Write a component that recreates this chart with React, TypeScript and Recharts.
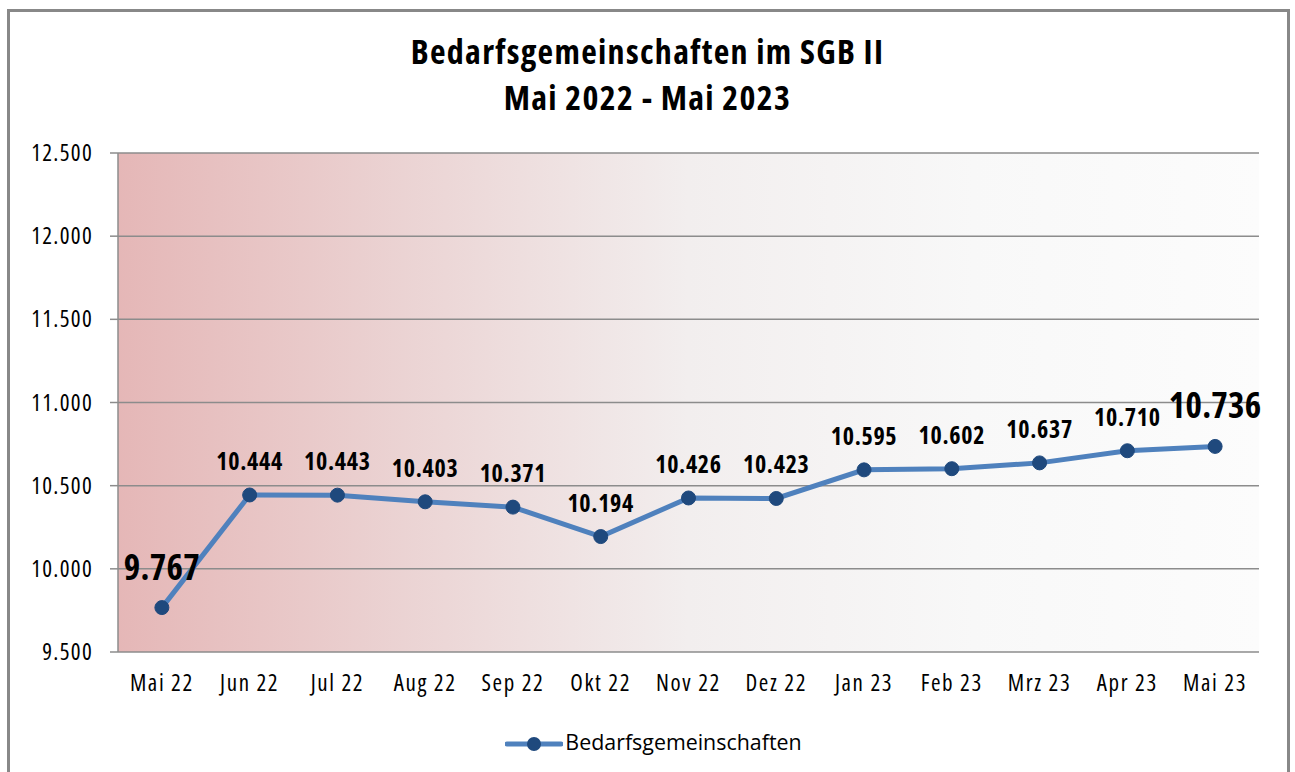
import { LineChart, Line, XAxis, YAxis, CartesianGrid, Legend, LabelList } from 'recharts'

const months = ['Mai 22', 'Jun 22', 'Jul 22', 'Aug 22', 'Sep 22', 'Okt 22', 'Nov 22', 'Dez 22', 'Jan 23', 'Feb 23', 'Mrz 23', 'Apr 23', 'Mai 23']
const values = [9767, 10444, 10443, 10403, 10371, 10194, 10426, 10423, 10595, 10602, 10637, 10710, 10736]
const yTicks = [9500, 10000, 10500, 11000, 11500, 12000, 12500]
const seriesName = 'Bedarfsgemeinschaften'
const titleLines = ['Bedarfsgemeinschaften im SGB II', 'Mai 2022 - Mai 2023']

const monthTicks = months.map((_, i) => i)
const edgeTicks = [...months.map((_, i) => i - 0.5), months.length - 0.5]
const data = months.map((m, i) => ({ i, m, v: values[i] }))

// Open Sans ships condensed faces here; 75% is the condensed one
const font = '"Open Sans", sans-serif'
const fmt = (n: number) => String(n).replace(/\B(?=(\d{3})+(?!\d))/g, '.')

function ValueLabel(props: any) {
  const { x, y, value, index } = props
  const big = index === 0 || index === values.length - 1
  return (
    <text
      x={x}
      y={y - (big ? 28 : 25)}
      textAnchor="middle"
      fontFamily={font}
      fontWeight="bold"
      fontSize={big ? 35 : 24}
      fill="#000"
      style={{ fontStretch: '75%', letterSpacing: big ? 0.3 : 0.7 }}
    >
      {fmt(value)}
    </text>
  )
}

function LegendContent() {
  return (
    <div style={{ height: 60, display: 'flex', justifyContent: 'center', alignItems: 'flex-end', paddingBottom: 8, paddingLeft: 48, boxSizing: 'border-box' }}>
      <svg width={58} height={20} style={{ marginRight: 2 }}>
        <line x1={2} y1={10} x2={56} y2={10} stroke="#4f81bd" strokeWidth={5} strokeLinecap="round" />
        <circle cx={29} cy={10} r={7} fill="#1f497d" />
      </svg>
      <span style={{ fontFamily: font, fontStretch: '90%', fontSize: 21.4, color: '#000', lineHeight: '24px' }}>{seriesName}</span>
    </div>
  )
}

export default function App() {
  return (
    <div style={{ position: 'absolute', left: 0, top: 0, width: 1295, height: 772, background: '#fff', overflow: 'hidden' }}>
      <div style={{ position: 'absolute', left: 7, top: 9, width: 1277, height: 800, border: '3px solid #888' }} />
      <div style={{ position: 'absolute', left: 0, top: 28, width: 1295, textAlign: 'center', fontFamily: font, fontStretch: '75%', letterSpacing: 1.3, fontWeight: 'bold', fontSize: 34, lineHeight: '46px', color: '#000' }}>
        {titleLines.map(t => <div key={t}>{t}</div>)}
      </div>
      <div style={{ position: 'absolute', left: 0, top: 0 }}>
        <LineChart width={1295} height={772} data={data} margin={{ top: 153, right: 36, left: 0, bottom: 10 }}>
          <defs>
            <linearGradient id="plotBg" x1="0" y1="0" x2="1" y2="0">
              <stop offset="0%" stopColor="#e5b7b7" />
              <stop offset="25%" stopColor="#ebd3d3" />
              <stop offset="50%" stopColor="#f2eeee" />
              <stop offset="75%" stopColor="#f8f8f8" />
              <stop offset="100%" stopColor="#fcfcfc" />
            </linearGradient>
          </defs>
          <CartesianGrid vertical={false} stroke="#8c8c8c" strokeWidth={1.5} fill="url(#plotBg)" fillOpacity={1} />
          <XAxis
            xAxisId="edge"
            type="number"
            dataKey="i"
            domain={[-0.5, months.length - 0.5]}
            ticks={edgeTicks}
            tickFormatter={() => ''}
            height={0}
            tickSize={8}
            stroke="#8c8c8c"
            strokeWidth={1.5}
            allowDataOverflow
          />
          <XAxis
            xAxisId="label"
            type="number"
            dataKey="i"
            domain={[-0.5, months.length - 0.5]}
            ticks={monthTicks}
            tickFormatter={(i: number) => months[i]}
            interval={0}
            height={50}
            tickSize={0}
            tickMargin={23}
            axisLine={false}
            tickLine={false}
            tick={{ fontFamily: font, fontSize: 23, fill: '#000', style: { fontStretch: '75%', letterSpacing: 1.6 } }}
            allowDataOverflow
          />
          <YAxis
            domain={[9500, 12500]}
            ticks={yTicks}
            width={118}
            tickSize={8}
            tickMargin={17}
            tickFormatter={fmt}
            stroke="#8c8c8c"
            strokeWidth={1.5}
            tick={{ fontFamily: font, fontSize: 23, fill: '#000', style: { fontStretch: '75%', letterSpacing: 1.3 } }}
            allowDataOverflow
          />
          <Legend verticalAlign="bottom" content={<LegendContent />} />
          <Line
            xAxisId="label"
            dataKey="v"
            name={seriesName}
            type="linear"
            stroke="#4f81bd"
            strokeWidth={5}
            dot={{ r: 7, fill: '#1f497d', stroke: '#1f497d', strokeWidth: 1 }}
            activeDot={false}
            isAnimationActive={false}
          >
            <LabelList dataKey="v" content={<ValueLabel />} />
          </Line>
        </LineChart>
      </div>
    </div>
  )
}
